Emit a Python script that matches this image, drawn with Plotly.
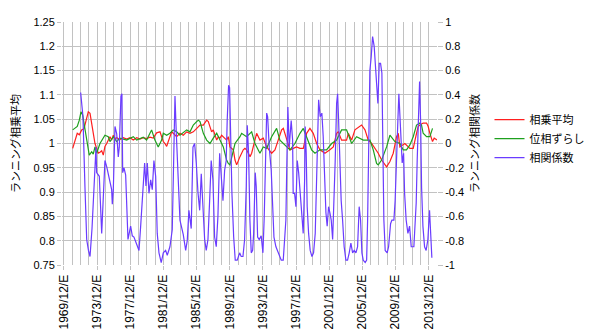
import plotly.graph_objects as go

# ---- data (decimal years) ----
x_tick_labels = ["1969/12/E", "1973/12/E", "1977/12/E", "1981/12/E", "1985/12/E", "1989/12/E",
                 "1993/12/E", "1997/12/E", "2001/12/E", "2005/12/E", "2009/12/E", "2013/12/E"]
left_ticks = [0.75, 0.8, 0.85, 0.9, 0.95, 1.0, 1.05, 1.1, 1.15, 1.2, 1.25]
left_tick_labels = ["0.75", "0.8", "0.85", "0.9", "0.95", "1", "1.05", "1.1", "1.15", "1.2", "1.25"]
right_ticks = [-1, -0.8, -0.6, -0.4, -0.2, 0, 0.2, 0.4, 0.6, 0.8, 1]
right_tick_labels = ["-1", "-0.8", "-0.6", "-0.4", "-0.2", "0", "0.2", "0.4", "0.6", "0.8", "1"]

red_years = [1970.97, 1971.25, 1971.52, 1971.77, 1972.05, 1972.33, 1972.57, 1972.85, 1973.06, 1973.26,
             1973.45, 1973.66, 1973.86, 1974.06, 1974.26, 1974.47, 1974.66, 1974.86, 1975.07, 1975.26,
             1975.47, 1975.67, 1975.87, 1976.07, 1976.28, 1976.67, 1977.07, 1977.48, 1977.88, 1978.28,
             1978.69, 1979.09, 1979.48, 1979.89, 1980.29, 1980.69, 1981.10, 1981.50, 1981.70, 1981.90,
             1982.10, 1982.31, 1982.50, 1982.70, 1982.91, 1983.10, 1983.51, 1983.91, 1984.31, 1984.72,
             1985.12, 1985.52, 1985.92, 1986.33, 1986.73, 1987.13, 1987.33, 1987.53, 1987.73, 1987.93,
             1988.14, 1988.34, 1988.54, 1988.74, 1988.94, 1989.14, 1989.54, 1989.74, 1989.94, 1990.35,
             1990.55, 1990.75, 1990.95, 1991.15, 1991.55, 1991.75, 1991.95, 1992.36, 1992.56, 1992.76,
             1993.16, 1993.56, 1993.96, 1994.37, 1994.77, 1994.97, 1995.37, 1995.77, 1996.18, 1996.38,
             1996.78, 1997.18, 1997.58, 1997.98, 1998.39, 1998.79, 1999.19, 1999.59, 1999.99, 2000.40,
             2000.80, 2001.20, 2001.40, 2002.00, 2002.41, 2002.81, 2003.01, 2003.41, 2004.01, 2004.22,
             2004.62, 2005.02, 2005.62, 2005.82, 2006.23, 2006.63, 2007.03, 2007.43, 2007.83, 2008.24,
             2008.64, 2008.84, 2009.24, 2009.64, 2010.04, 2010.25, 2010.44, 2011.04, 2011.65, 2012.05,
             2012.45, 2012.65, 2012.85, 2013.25, 2013.66, 2013.86, 2014.06, 2014.38, 2014.58, 2014.94]
red_vals = [0.990, 1.005, 1.021, 1.018, 1.028, 1.030, 1.048, 1.065, 1.062, 1.040,
            1.021, 1.000, 0.990, 0.980, 0.982, 0.985, 0.976, 0.994, 1.000, 1.007,
            1.014, 1.007, 1.017, 1.010, 1.012, 1.008, 1.012, 1.009, 1.012, 1.007,
            1.012, 1.009, 1.012, 1.010, 1.013, 1.011, 1.022, 1.024, 1.012, 1.004,
            1.000, 0.994, 1.004, 1.014, 1.024, 1.021, 1.014, 1.021, 1.017, 1.024,
            1.021, 1.024, 1.031, 1.038, 1.038, 1.048, 1.045, 1.035, 1.024, 1.028,
            1.017, 1.007, 1.014, 1.011, 1.017, 1.014, 1.007, 1.014, 0.993, 0.987,
            0.966, 0.956, 0.966, 0.973, 0.987, 0.990, 0.987, 0.973, 0.980, 0.993,
            1.021, 1.007, 1.011, 0.993, 0.983, 0.980, 0.987, 1.007, 1.028, 1.031,
            1.007, 0.987, 0.990, 0.993, 0.990, 0.990, 1.021, 1.031, 1.021, 1.000,
            0.987, 0.983, 0.980, 0.987, 0.993, 1.021, 1.024, 1.007, 1.007, 1.021,
            1.007, 1.028, 1.035, 1.038, 1.028, 1.007, 1.000, 0.990, 0.980, 0.966,
            0.956, 0.952, 0.963, 0.980, 1.014, 1.021, 0.993, 1.000, 0.990, 0.990,
            1.021, 1.035, 1.038, 1.042, 1.042, 1.035, 1.021, 1.004, 1.011, 1.007]

green_years = [1970.97, 1971.52, 1971.77, 1971.97, 1972.17, 1972.33, 1972.53, 1972.73, 1972.85, 1972.97,
               1973.26, 1973.45, 1973.66, 1973.86, 1974.26, 1974.86, 1975.26, 1975.47, 1975.87, 1976.28,
               1976.67, 1977.48, 1978.28, 1978.69, 1979.48, 1979.89, 1980.29, 1980.49, 1980.89, 1981.29,
               1981.70, 1981.90, 1982.31, 1982.70, 1983.10, 1983.51, 1983.91, 1984.72,
               1985.12, 1985.52, 1985.92, 1986.13, 1986.33, 1986.73, 1987.13, 1987.53, 1987.93, 1988.34,
               1988.74, 1989.14, 1989.54, 1989.74, 1989.94, 1990.15, 1990.55, 1991.15, 1991.35, 1991.95,
               1992.56, 1992.96, 1993.56, 1993.96, 1994.37, 1994.97, 1995.57, 1995.97, 1996.78, 1997.18,
               1997.78, 1998.39, 1998.79, 1999.19, 1999.79, 2000.20, 2000.80, 2001.60, 2002.21, 2002.81,
               2003.41, 2004.01, 2004.42, 2004.62, 2005.22, 2006.02, 2006.83, 2007.23, 2007.63, 2007.83,
               2008.24, 2008.84, 2009.24, 2009.84, 2010.45, 2010.84, 2011.24, 2011.65, 2012.05, 2012.45,
               2012.85, 2013.05, 2013.25, 2013.66, 2014.06, 2014.26, 2014.38]
green_vals = [1.028, 1.035, 1.048, 1.065, 1.059, 1.042, 1.021, 1.007, 0.987, 0.976,
              0.983, 0.978, 0.993, 0.980, 1.000, 1.017, 1.014, 1.004, 1.014, 1.004,
              1.011, 1.007, 1.014, 1.007, 1.013, 1.007, 1.021, 1.028, 1.007, 0.993,
              1.007, 1.021, 1.017, 1.021, 1.028, 1.024, 1.017, 1.028,
              1.024, 1.038, 1.045, 1.048, 1.045, 1.021, 1.007, 1.000, 1.011, 1.021,
              1.007, 0.993, 0.966, 0.959, 0.956, 0.973, 1.000, 1.014, 1.021, 1.014,
              1.024, 1.000, 0.980, 0.993, 0.990, 1.014, 1.031, 1.007, 0.993, 0.987,
              1.000, 1.021, 1.031, 1.014, 0.987, 0.980, 0.987, 0.987, 1.000, 1.007,
              1.028, 1.028, 1.007, 1.000, 1.014, 1.007, 1.007, 0.987, 0.959, 0.956,
              0.966, 0.993, 1.017, 1.004, 1.000, 0.987, 0.987, 0.997, 1.014, 1.038,
              1.042, 1.038, 1.021, 1.014, 1.014, 1.028, 1.031]

blue_years = [1971.93, 1972.21, 1972.45, 1972.66, 1972.87, 1973.06, 1973.30, 1973.66, 1973.78, 1973.86,
              1974.18, 1974.47, 1974.66, 1974.86, 1975.07, 1975.38, 1975.67, 1975.75, 1975.87, 1976.07,
              1976.28, 1976.47, 1976.59, 1976.79, 1976.91, 1977.00, 1977.16, 1977.36, 1977.64, 1977.96,
              1978.16, 1978.36, 1978.76, 1978.97, 1979.17, 1979.36, 1979.65, 1979.81, 1979.97, 1980.17,
              1980.38, 1980.57, 1980.77, 1980.98, 1981.17, 1981.38, 1981.65, 1981.90, 1982.18, 1982.38,
              1982.70, 1982.98, 1983.19, 1983.31, 1983.46, 1983.67, 1983.91, 1984.31, 1984.60, 1984.79,
              1984.99, 1985.27, 1985.48, 1985.68, 1985.88, 1986.08, 1986.29, 1986.48, 1986.68, 1986.89,
              1987.08, 1987.29, 1987.49, 1987.68, 1987.89, 1988.09, 1988.29, 1988.49, 1988.70, 1988.89,
              1989.10, 1989.30, 1989.49, 1989.61, 1989.78, 1989.90, 1990.02, 1990.18, 1990.39, 1990.58,
              1990.82, 1991.11, 1991.30, 1991.51, 1991.71, 1991.91, 1992.03, 1992.19, 1992.35, 1992.51,
              1992.68, 1992.80, 1992.99, 1993.11, 1993.28, 1993.47, 1993.71, 1993.92, 1994.08, 1994.20,
              1994.37, 1994.49, 1994.68, 1994.92, 1995.09, 1995.25, 1995.49, 1995.81, 1996.13, 1996.37,
              1996.54, 1996.69, 1996.81, 1996.93, 1997.09, 1997.33, 1997.50, 1997.57, 1997.74, 1997.90,
              1998.06, 1998.23, 1998.42, 1998.62, 1998.78, 1998.95, 1999.02, 1999.14, 1999.26, 1999.43,
              1999.62, 1999.83, 2000.03, 2000.23, 2000.43, 2000.64, 2000.83, 2001.03, 2001.19, 2001.36,
              2001.52, 2001.67, 2001.84, 2002.00, 2002.16, 2002.33, 2002.48, 2002.64, 2002.81, 2002.93,
              2003.05, 2003.21, 2003.36, 2003.53, 2003.72, 2003.93, 2004.13, 2004.33, 2004.53, 2004.74,
              2004.93, 2005.14, 2005.34, 2005.53, 2005.70, 2005.86, 2006.02, 2006.26, 2006.43, 2006.55,
              2006.67, 2006.82, 2006.98, 2007.15, 2007.34, 2007.46, 2007.63, 2007.79, 2007.95, 2008.11,
              2008.27, 2008.39, 2008.51, 2008.67, 2008.91, 2009.08, 2009.32, 2009.48, 2009.72, 2009.87,
              2010.00, 2010.20, 2010.32, 2010.48, 2010.60, 2010.72, 2010.89, 2011.01, 2011.20, 2011.41,
              2011.61, 2011.81, 2012.13, 2012.29, 2012.41, 2012.53, 2012.70, 2012.82, 2012.94, 2013.06,
              2013.22, 2013.42, 2013.61, 2013.82, 2014.02, 2014.14, 2014.30]
blue_vals = [0.42, 0.22, -0.36, -0.79, -0.88, -0.93, -0.70, -0.16, -0.03, -0.24,
             -0.27, -0.74, -0.47, -0.14, -0.19, -0.28, -0.38, -0.50, -0.38, 0.14,
             0.08, -0.11, -0.03, 0.39, 0.41, -0.24, -0.20, -0.26, -0.79, -0.68,
             -0.76, -0.77, -0.85, -0.88, -0.68, -0.47, -0.16, -0.35, -0.16, -0.41,
             -0.30, -0.38, -0.14, -0.27, -0.74, -0.90, -0.98, -0.90, -0.88, -0.92,
             -0.85, -0.71, -0.10, 0.39, 0.10, -0.30, -0.63, -0.75, -0.88, -0.80,
             -0.55, -0.70, -0.03, 0.00, -0.16, -0.40, -0.55, -0.25, -0.57, -0.79,
             -0.88, -0.79, -0.47, -0.14, -0.30, -0.77, -0.85, -0.60, -0.08, -0.24,
             -0.47, -0.22, -0.14, 0.19, 0.48, 0.46, 0.06, -0.41, -0.77, -0.96,
             -0.96, -0.90, -0.93, -0.93, -0.79, -0.35, 0.15, -0.08, -0.63, -0.90,
             -0.88, -0.74, -0.24, -0.35, -0.77, -0.79, -0.76, -0.90, -0.60, -0.19,
             0.25, 0.22, -0.03, -0.22, -0.52, -0.77, -0.85, -0.90, -0.96, -0.96,
             -0.79, -0.63, -0.14, 0.30, -0.03, 0.19, 0.03, -0.41, -0.41, -0.52,
             -0.14, -0.24, -0.41, -0.60, -0.74, -0.30, 0.14, -0.08, -0.52, -0.74,
             -0.88, -0.93, -0.90, -0.74, -0.20, 0.36, 0.22, 0.25, 0.06, -0.36,
             -0.57, -0.68, -0.52, -0.57, -0.63, -0.79, -0.52, -0.14, 0.33, 0.41,
             0.19, -0.14, -0.47, -0.63, -0.85, -0.96, -0.96, -0.90, -0.82, -0.90,
             -0.88, -0.90, -0.85, -0.52, -0.63, -0.90, -0.96, -0.98, -0.96, -0.63,
             -0.08, 0.60, 0.71, 0.88, 0.80, 0.66, 0.55, 0.33, 0.66, 0.66,
             0.58, -0.08, -0.63, -0.88, -0.90, -0.85, -0.66, -0.63, -0.63, -0.47,
             -0.14, 0.19, 0.41, 0.19, -0.08, -0.16, -0.08, -0.41, -0.63, -0.74,
             -0.68, -0.85, -0.85, -0.63, -0.49, -0.14, 0.19, 0.51, 0.19, -0.36,
             -0.68, -0.85, -0.88, -0.79, -0.55, -0.70, -0.94]

series_names = ["相乗平均", "位相ずらし", "相関係数"]
left_title = "ランニング相乗平均"
right_title = "ランニング相関係数"

# tick positions derived from the December labels
x_tick_pos = [int(s[:4]) + 11 / 12 for s in x_tick_labels]

grid = "#c2c2c2"
font_family = "Liberation Sans, Arial, Noto Sans CJK JP, sans-serif"

fig = go.Figure()
fig.add_trace(go.Scatter(x=red_years, y=red_vals, name=series_names[0], mode="lines",
                         line=dict(color="#ff1f1f", width=1.2), yaxis="y"))
fig.add_trace(go.Scatter(x=green_years, y=green_vals, name=series_names[1], mode="lines",
                         line=dict(color="#1ea01e", width=1.2), yaxis="y"))
fig.add_trace(go.Scatter(x=blue_years, y=blue_vals, name=series_names[2], mode="lines",
                         line=dict(color="#6a3cff", width=1.2), yaxis="y2"))

fig.update_layout(
    width=600, height=335,
    margin=dict(l=62, r=163, t=22, b=70, autoexpand=False),
    paper_bgcolor="white", plot_bgcolor="white",
    font=dict(family=font_family, size=11, color="#000000"),
    xaxis=dict(range=[1969.68, 2014.92], tickmode="array", tickvals=x_tick_pos, ticktext=x_tick_labels,
               tickangle=-90, tickfont=dict(size=12), showgrid=True, gridcolor=grid, gridwidth=1.3,
               ticks="outside", ticklen=4, tickcolor=grid,
               minor=dict(tickmode="linear", tick0=1969 + 11 / 12, dtick=1, showgrid=True,
                          gridcolor=grid, gridwidth=1.3, ticks=""),
               zeroline=False, showline=False, automargin=False),
    yaxis=dict(range=[0.75, 1.25], tickmode="array", tickvals=left_ticks, ticktext=left_tick_labels,
               showgrid=True, gridcolor=grid, gridwidth=1.3, ticks="outside", ticklen=4, tickcolor=grid,
               zeroline=False, showline=False, automargin=False,
               title=dict(text=left_title, font=dict(size=11), standoff=10)),
    yaxis2=dict(range=[-1, 1], tickmode="array", tickvals=right_ticks, ticktext=right_tick_labels,
                overlaying="y", side="right", showgrid=False, ticks="outside", ticklen=5, tickcolor=grid,
                zeroline=False, showline=False, automargin=False,
                title=dict(text=right_title, font=dict(size=11), standoff=8)),
    legend=dict(x=1.14, y=0.52, xanchor="left", yanchor="middle", font=dict(size=11),
                bgcolor="rgba(0,0,0,0)", tracegroupgap=0),
    showlegend=True,
)

fig.write_html("out.html")
